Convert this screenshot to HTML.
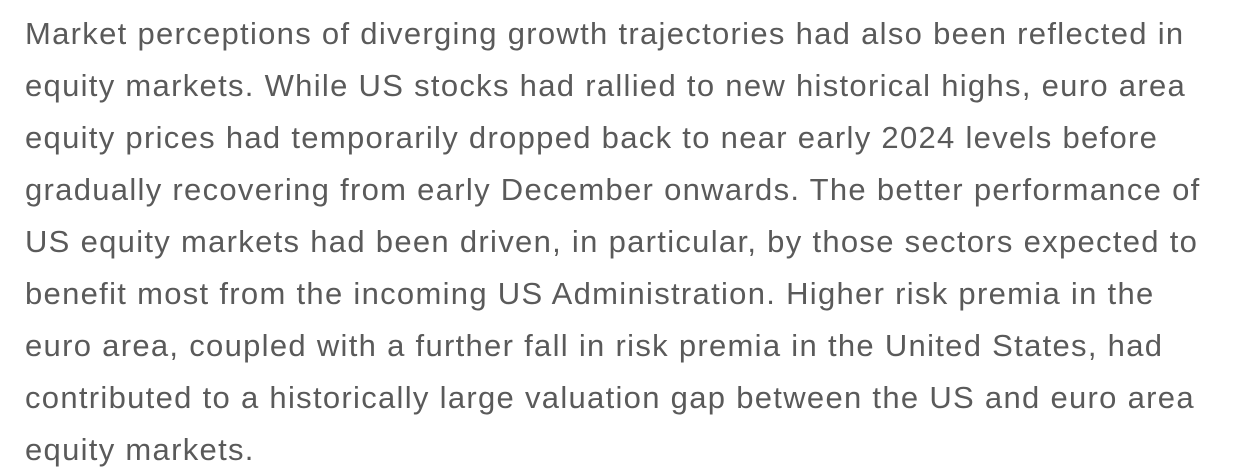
<!DOCTYPE html>
<html><head><meta charset="utf-8"><style>
html,body{margin:0;padding:0;background:#fff;width:1240px;height:476px;overflow:hidden}
.t{position:absolute;left:25px;top:8px;font-family:"Liberation Sans",sans-serif;font-size:31px;letter-spacing:1.3px;line-height:52px;color:#5a5a5a;white-space:nowrap}
.t div{height:52px}
</style></head><body>
<div class="t">
<div>Market perceptions of diverging growth trajectories had also been reflected in</div>
<div>equity markets. While US stocks had rallied to new historical highs, euro area</div>
<div>equity prices had temporarily dropped back to near early 2024 levels before</div>
<div>gradually recovering from early December onwards. The better performance of</div>
<div>US equity markets had been driven, in particular, by those sectors expected to</div>
<div>benefit most from the incoming US Administration. Higher risk premia in the</div>
<div>euro area, coupled with a further fall in risk premia in the United States, had</div>
<div>contributed to a historically large valuation gap between the US and euro area</div>
<div>equity markets.</div>
</div>
</body></html>
